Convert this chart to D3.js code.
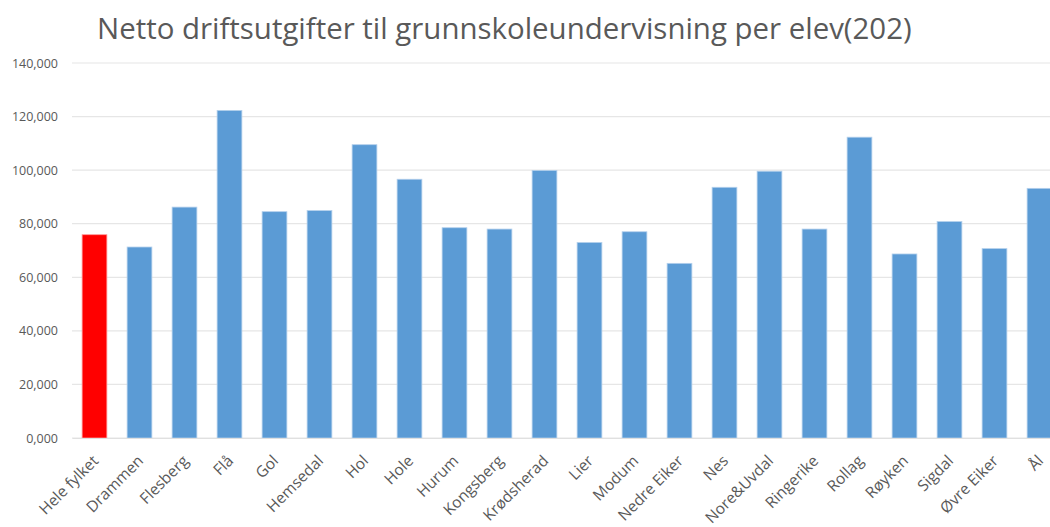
<!DOCTYPE html>
<html><head><meta charset="utf-8">
<script src="https://cdn.jsdelivr.net/npm/d3@7"></script>
<style>body{margin:0;background:#fff;} svg{display:block;}</style>
</head><body>
<svg id="chart" width="1050" height="527"></svg>
<script>
const title = "Netto driftsutgifter til grunnskoleundervisning per elev(202)";
const categories = ["Hele fylket","Drammen","Flesberg","Flå","Gol","Hemsedal","Hol","Hole","Hurum","Kongsberg","Krødsherad","Lier","Modum","Nedre Eiker","Nes","Nore&Uvdal","Ringerike","Rollag","Røyken","Sigdal","Øvre Eiker","Ål"];
const values = [75900,71300,86200,122300,84500,84900,109500,96600,78500,78000,99900,73000,77000,65200,93600,99600,78000,112300,68700,80800,70700,93200];
const highlight = ["Hele fylket"];
const yTicks = [0,20000,40000,60000,80000,100000,120000,140000];

const svg = d3.select("#chart");
const m = {left:72, right:-12, top:63, bottom:89};
const W = 1050, H = 527;
const x = d3.scaleBand().domain(categories).range([m.left, W - m.right]).paddingInner(0.45).paddingOuter(0.225);
const y = d3.scaleLinear().domain([0,140000]).range([H - m.bottom, m.top]);

// gridlines
svg.append("g").selectAll("line").data(yTicks).join("line")
  .attr("x1", m.left).attr("x2", W).attr("y1", d=>y(d)).attr("y2", d=>y(d))
  .attr("stroke", "#e6e6e6").attr("stroke-width", 1.2);

// y axis labels
const fmt = d => d===0 ? "0,000" : d3.format(",")(d);
const yAxis = d3.axisLeft(y).tickValues(yTicks).tickFormat(fmt).tickSize(0).tickPadding(14);
const gy = svg.append("g").attr("transform", `translate(${m.left},0)`).call(yAxis);
gy.select(".domain").remove();
gy.selectAll("text").attr("fill","#595959").style("font-family","'Open Sans', sans-serif").style("font-size","12.5px");

// bars
svg.append("g").selectAll("rect").data(categories).join("rect")
  .attr("x", d=>x(d)).attr("width", x.bandwidth())
  .attr("y", (d,i)=>y(values[i])).attr("height", (d,i)=>y(0)-y(values[i]))
  .attr("fill", d=> highlight.includes(d) ? "#ff0000" : "#5b9bd5")
  .attr("stroke", d=> highlight.includes(d) ? "#ff9a9a" : "#b4d0ec").attr("stroke-width", 0.8);

// x axis
const xAxis = d3.axisBottom(x).tickSize(0).tickPadding(0);
const gx = svg.append("g").attr("transform", `translate(0,${y(0)})`).call(xAxis);
gx.select(".domain").attr("stroke","#e0e0e0");
gx.selectAll("text")
  .attr("fill","#595959").style("font-family","'Open Sans', sans-serif").style("font-size","15.5px")
  .attr("text-anchor","end").attr("dy","0.35em")
  .attr("transform","translate(1,20) rotate(-45)");

// title
const t = svg.append("text").text(title)
  .attr("x", 97).attr("y", 39)
  .attr("fill","#595959").style("font-family","'Open Sans', sans-serif").style("font-size","28px");
const len = t.node().getComputedTextLength();
t.style("font-size", (28*815/len).toFixed(2)+"px");
</script>
</body></html>
